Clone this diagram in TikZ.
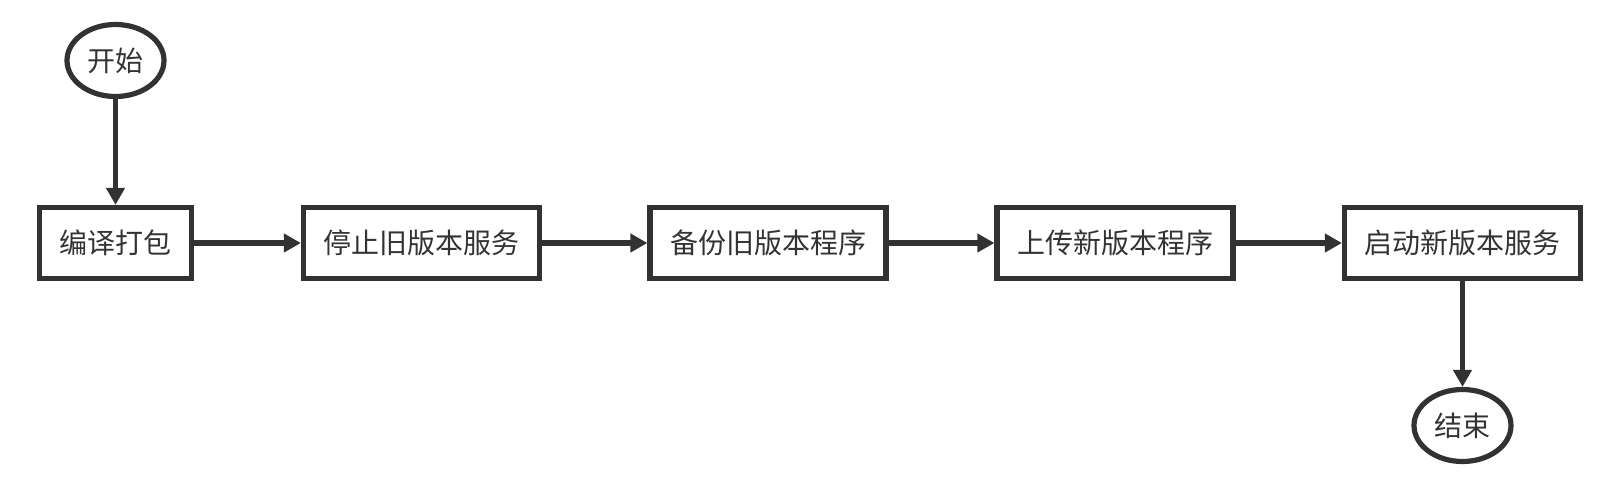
\documentclass[tikz,border=0pt]{standalone}
\usepackage{fontspec}
\newfontfamily\cjk{Noto Sans CJK SC}
\usetikzlibrary{arrows.meta,shapes.geometric}
\definecolor{ink}{HTML}{333333}
\definecolor{edge}{HTML}{323232}

\begin{document}
\begin{tikzpicture}[x=0.5pt,y=-0.5pt,font=\cjk\fontsize{14}{17}\selectfont,text=ink,
    >={Triangle[length=8.5pt,width=9pt]},
    stepbox/.style={draw=edge,line width=2.6pt,minimum height=35.5pt,inner sep=0pt},
    termnode/.style={ellipse,draw=edge,line width=2.6pt,minimum width=48.5pt,
      minimum height=36pt,inner sep=0pt},
    flow/.style={draw=edge,line width=2.6pt,->}]
  \useasboundingbox (0,0) rectangle (1624,482);

  % terminals
  \node[termnode] (start) at (115.5,60.5) {开始};
  \node[termnode] (finish) at (1462.5,425.5) {结束};

  % steps
  \node[stepbox,minimum width=76pt] (pack) at (115.5,243) {编译打包};
  \node[stepbox,minimum width=118pt] (stopold) at (421.5,243) {停止旧版本服务};
  \node[stepbox,minimum width=118pt] (backup) at (768,243) {备份旧版本程序};
  \node[stepbox,minimum width=118pt] (upload) at (1115,243) {上传新版本程序};
  \node[stepbox,minimum width=118pt] (startnew) at (1462.5,243) {启动新版本服务};

  \draw[flow] (start) -- (pack);
  \foreach \a/\b in {pack/stopold,stopold/backup,backup/upload,upload/startnew} {
    \draw[flow] (\a) -- (\b);
  }
  \draw[flow] (startnew) -- (finish);
\end{tikzpicture}
\end{document}
